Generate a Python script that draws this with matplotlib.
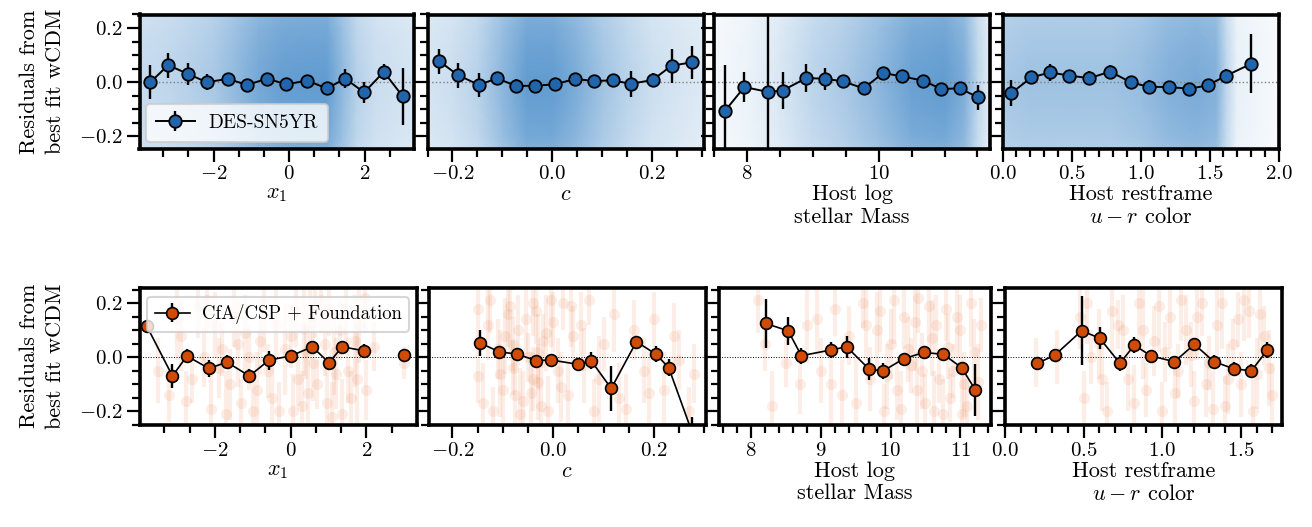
import numpy as np
import matplotlib
matplotlib.use("Agg")
import matplotlib.pyplot as plt
from matplotlib.ticker import MultipleLocator
from matplotlib.colors import LinearSegmentedColormap

plt.rcParams.update({
    "font.family": "serif",
    "font.serif": ["cmr10"],
    "mathtext.fontset": "cm",
    "axes.formatter.use_mathtext": True,
    "axes.unicode_minus": True,
})

# ---------------- DES-SN5YR binned residuals (top row) ----------------
des_x1_x = [-3.67, -3.20, -2.67, -2.18, -1.62, -1.11, -0.58, -0.07, 0.48, 1.00, 1.49, 1.99, 2.51, 3.01]
des_x1_y = [0.000, 0.063, 0.030, 0.000, 0.012, -0.010, 0.013, -0.008, 0.006, -0.023, 0.013, -0.038, 0.038, -0.052]
des_x1_e = [0.063, 0.046, 0.040, 0.030, 0.020, 0.015, 0.015, 0.012, 0.012, 0.015, 0.036, 0.040, 0.030, 0.106]

des_c_x = [-0.226, -0.189, -0.147, -0.111, -0.072, -0.034, 0.005, 0.046, 0.084, 0.121, 0.157, 0.201, 0.239, 0.279]
des_c_y = [0.077, 0.026, -0.010, 0.014, -0.014, -0.013, -0.008, 0.012, 0.004, 0.007, -0.006, 0.008, 0.061, 0.073]
des_c_e = [0.047, 0.046, 0.044, 0.020, 0.025, 0.010, 0.010, 0.010, 0.010, 0.025, 0.047, 0.026, 0.063, 0.062]

des_m_x = [7.66, 7.96, 8.32, 8.54, 8.90, 9.18, 9.46, 9.77, 10.07, 10.36, 10.67, 10.95, 11.23, 11.51]
des_m_y = [-0.108, -0.018, -0.036, -0.031, 0.015, 0.013, 0.003, -0.023, 0.034, 0.021, 0.006, -0.025, -0.023, -0.056]
des_m_e = [0.172, 0.057, 0.800, 0.068, 0.053, 0.041, 0.025, 0.020, 0.015, 0.012, 0.012, 0.012, 0.015, 0.047]

des_ur_x = [0.065, 0.210, 0.347, 0.485, 0.630, 0.781, 0.931, 1.059, 1.204, 1.355, 1.486, 1.621, 1.802]
des_ur_y = [-0.040, 0.018, 0.036, 0.024, 0.015, 0.039, -0.001, -0.017, -0.018, -0.024, -0.012, 0.024, 0.068]
des_ur_e = [0.048, 0.020, 0.030, 0.020, 0.025, 0.025, 0.020, 0.025, 0.010, 0.010, 0.010, 0.025, 0.109]

# DES background density (read as relative shading), nodes in x and y
des_bg_y = [-0.25, -0.2, -0.1, 0.0, 0.1, 0.2, 0.26]
des_bg_yprof = [0.8, 0.88, 0.95, 1.0, 0.95, 0.88, 0.8]
des_bg_x1_x = [-3.96, -3.3, -2.7, -2.0, -1.4, -0.8, -0.2, 0.4, 1.0, 1.4, 1.8, 2.3, 3.31]
des_bg_x1_d = [0.3, 0.33, 0.38, 0.45, 0.58, 0.72, 0.8, 0.82, 0.82, 0.6, 0.38, 0.28, 0.22]
des_bg_c_x = [-0.25, -0.2, -0.15, -0.1, -0.05, 0.0, 0.05, 0.1, 0.15, 0.2, 0.25, 0.303]
des_bg_c_d = [0.22, 0.27, 0.37, 0.6, 0.82, 0.82, 0.68, 0.5, 0.37, 0.27, 0.22, 0.18]
des_bg_m_x = [7.5, 8.0, 8.5, 9.0, 9.5, 10.0, 10.5, 11.0, 11.3, 11.5, 11.69]
des_bg_m_d = [0.06, 0.1, 0.2, 0.35, 0.45, 0.6, 0.78, 0.82, 0.68, 0.35, 0.15]
des_bg_ur_x = [0.0, 0.2, 0.5, 0.8, 1.0, 1.2, 1.4, 1.55, 1.62, 1.7, 2.0]
des_bg_ur_d = [0.45, 0.5, 0.5, 0.5, 0.55, 0.65, 0.7, 0.65, 0.35, 0.12, 0.04]

# ---------------- CfA/CSP + Foundation binned residuals (bottom row) ----------------
low_x1_x = [-3.80, -3.12, -2.74, -2.16, -1.68, -1.09, -0.57, 0.00, 0.57, 1.01, 1.36, 1.94, 2.50, 3.00]
low_x1_y = [0.116, -0.069, 0.005, -0.041, -0.018, -0.069, -0.010, 0.005, 0.039, -0.020, 0.039, 0.024, np.nan, 0.007]
low_x1_e = [0.0, 0.044, 0.025, 0.030, 0.025, 0.025, 0.035, 0.015, 0.020, 0.020, 0.015, 0.025, np.nan, 0.0]

low_c_x = [-0.146, -0.107, -0.071, -0.035, -0.004, 0.050, 0.075, 0.115, 0.165, 0.204, 0.229, 0.276]
low_c_y = [0.054, 0.020, 0.012, -0.012, -0.010, -0.026, -0.012, -0.115, 0.058, 0.011, -0.038, -0.280]
low_c_e = [0.048, 0.020, 0.010, 0.010, 0.010, 0.020, 0.030, 0.082, 0.010, 0.030, 0.030, 0.060]

low_m_x = [8.21, 8.53, 8.72, 9.14, 9.37, 9.69, 9.89, 10.19, 10.48, 10.76, 11.02, 11.22]
low_m_y = [0.125, 0.098, 0.006, 0.027, 0.039, -0.043, -0.051, -0.005, 0.018, 0.011, -0.038, -0.121]
low_m_e = [0.090, 0.051, 0.030, 0.030, 0.040, 0.040, 0.030, 0.008, 0.008, 0.010, 0.010, 0.097]

low_ur_x = [0.206, 0.317, 0.487, 0.602, 0.731, 0.823, 0.929, 1.078, 1.205, 1.329, 1.454, 1.567, 1.669]
low_ur_y = [-0.022, 0.008, 0.098, 0.071, -0.022, 0.045, 0.005, -0.016, 0.048, -0.016, -0.042, -0.050, 0.027]
low_ur_e = [0.0, 0.0, 0.128, 0.040, 0.030, 0.030, 0.008, 0.008, 0.008, 0.025, 0.025, 0.025, 0.030]

# Low-z individual SNe (faint background)
low_bg_x1_x = [-3.5, -3.2, -2.9, -2.6, -2.3, -2.1, -2.0, -1.8, -1.6, -1.5, -1.3, -1.1, -0.9, -0.6, -0.4, -0.3,
               0.0, 0.2, 0.3, 0.5, 0.6, 0.7, 0.9, 1.0, 1.1, 1.3, 1.5, 1.6, 1.8, 2.0, 2.2, -0.8, 0.4, 1.2, -1.9, 3.0,
               -3.0, -2.45, -1.7, -1.2, -0.7, -0.15, 0.15, 0.45, 0.8, 1.15, 1.45, 1.7, 1.95, -2.75, -1.0, 0.65,
               -0.5, 0.05, 0.35, 0.95, 1.35, 1.75, -2.2, -1.4]
low_bg_x1_y = [-0.05, -0.14, 0.08, -0.08, 0.00, -0.19, 0.12, 0.03, -0.10, 0.15, -0.17, 0.00, -0.12, -0.05, 0.12, -0.20,
               0.08, -0.08, -0.18, 0.15, -0.02, -0.10, 0.05, 0.18, -0.22, 0.10, -0.05, -0.15, 0.12, -0.12, 0.04, 0.06, 0.02, -0.06, -0.04, -0.02,
               0.14, 0.19, -0.21, 0.09, 0.20, 0.03, 0.17, -0.13, 0.21, 0.02, 0.18, 0.06, 0.22, -0.16, -0.2, 0.19,
               -0.15, -0.2, 0.11, -0.17, -0.21, -0.08, 0.21, 0.05]
low_bg_x1_e = [0.12, 0.10, 0.13, 0.09, 0.11, 0.14, 0.12, 0.10, 0.13, 0.11, 0.09, 0.12, 0.14, 0.10, 0.13, 0.11,
               0.12, 0.10, 0.13, 0.11, 0.14, 0.09, 0.12, 0.10, 0.13, 0.11, 0.12, 0.10, 0.14, 0.11, 0.09, 0.12, 0.10, 0.13, 0.11, 0.06,
               0.15, 0.12, 0.16, 0.14, 0.18, 0.17, 0.13, 0.15, 0.12, 0.16, 0.14, 0.17, 0.13, 0.11, 0.15, 0.12,
               0.16, 0.14, 0.18, 0.15, 0.13, 0.17, 0.12, 0.16]

low_bg_c_x = [-0.15, -0.15, -0.13, -0.12, -0.11, -0.10, -0.09, -0.08, -0.07, -0.06, -0.05, -0.04, -0.03, -0.02, -0.01,
              0.00, 0.01, 0.02, 0.03, 0.04, 0.06, 0.07, 0.08, 0.10, 0.13, 0.16, 0.18, 0.20, 0.22, 0.25, 0.27, -0.04, -0.08,
              -0.14, -0.125, -0.105, -0.095, -0.085, -0.065, -0.055, -0.045, -0.035, -0.025, -0.015, -0.005, 0.015,
              0.035, 0.055, 0.09, 0.12, 0.145, 0.19, 0.24, 0.28, -0.075, -0.03]
low_bg_c_y = [0.18, -0.07, 0.12, -0.20, 0.03, -0.12, 0.16, -0.04, 0.10, -0.16, 0.00, 0.20, -0.09, 0.06, -0.20,
              0.13, -0.05, 0.20, -0.14, 0.08, -0.03, 0.21, -0.20, 0.05, -0.15, 0.10, -0.05, 0.14, -0.12, -0.01, -0.20, -0.08, 0.05,
              -0.17, 0.21, -0.06, 0.08, 0.19, -0.21, 0.14, -0.13, 0.17, -0.18, 0.09, 0.21, -0.11,
              0.19, 0.12, -0.08, 0.16, -0.19, -0.13, 0.08, -0.06, -0.14, 0.02]
low_bg_c_e = [0.12, 0.10, 0.13, 0.09, 0.11, 0.14, 0.12, 0.10, 0.13, 0.11, 0.09, 0.12, 0.14, 0.10, 0.13,
              0.11, 0.12, 0.10, 0.13, 0.11, 0.14, 0.09, 0.12, 0.10, 0.13, 0.11, 0.12, 0.10, 0.14, 0.11, 0.09, 0.12, 0.10,
              0.15, 0.12, 0.16, 0.14, 0.18, 0.17, 0.13, 0.15, 0.12, 0.16, 0.14, 0.17, 0.13,
              0.15, 0.12, 0.16, 0.14, 0.13, 0.15, 0.12, 0.11, 0.16, 0.14]

low_bg_m_x = [8.1, 8.2, 8.3, 8.5, 8.7, 8.8, 9.0, 9.2, 9.3, 9.4, 9.6, 9.7, 9.8, 9.9, 10.0, 10.1, 10.2, 10.3,
              10.4, 10.5, 10.6, 10.7, 10.8, 10.9, 11.0, 11.1, 11.2, 11.3, 10.45, 10.65, 10.85, 10.25,
              9.85, 9.95, 10.05, 10.15, 10.35, 10.55, 10.75, 10.95, 11.05, 11.15, 11.25, 9.5, 9.65, 10.62, 10.82,
              11.02, 10.38, 8.95, 9.15]
low_bg_m_y = [0.21, 0.05, -0.18, -0.02, -0.10, 0.12, -0.05, 0.18, -0.14, 0.08, 0.20, -0.08, 0.10, -0.20, 0.05, -0.12, 0.15, -0.03,
              0.22, -0.17, 0.07, -0.08, 0.18, -0.05, 0.10, -0.18, 0.02, 0.12, -0.05, 0.12, -0.15, 0.03,
              0.17, -0.07, 0.21, -0.19, 0.13, 0.19, -0.21, 0.15, -0.1, 0.2, -0.09, -0.17, 0.12, -0.2, 0.04,
              -0.21, -0.12, 0.14, -0.1]
low_bg_m_e = [0.12, 0.10, 0.13, 0.09, 0.11, 0.14, 0.12, 0.10, 0.13, 0.11, 0.09, 0.12, 0.14, 0.10, 0.13, 0.11, 0.12, 0.10,
              0.13, 0.11, 0.14, 0.09, 0.12, 0.10, 0.13, 0.11, 0.12, 0.10, 0.14, 0.11, 0.09, 0.12,
              0.15, 0.12, 0.16, 0.14, 0.18, 0.17, 0.13, 0.15, 0.12, 0.16, 0.14, 0.17, 0.13, 0.15, 0.12,
              0.16, 0.14, 0.13, 0.15]

low_bg_ur_x = [0.20, 0.33, 0.48, 0.50, 0.60, 0.65, 0.72, 0.78, 0.85, 0.90, 0.95, 1.00, 1.05, 1.10, 1.15, 1.20,
               1.25, 1.30, 1.35, 1.40, 1.45, 1.50, 1.55, 1.60, 1.65, 1.70, 0.55, 0.75, 1.02, 1.28, 1.48,
               0.52, 0.62, 0.68, 0.82, 0.88, 0.98, 1.08, 1.12, 1.18, 1.22, 1.32, 1.38, 1.42, 1.52, 1.58, 1.62, 1.68]
low_bg_ur_y = [-0.02, 0.00, 0.15, -0.15, 0.05, -0.20, 0.12, -0.08, 0.20, -0.12, 0.06, -0.20, 0.15, -0.05, 0.10, -0.16,
               0.20, -0.02, 0.12, -0.18, 0.05, -0.10, 0.17, -0.06, 0.08, -0.14, 0.00, 0.10, 0.02, -0.10, 0.14,
               0.2, -0.08, 0.17, -0.17, 0.1, 0.19, -0.13, 0.21, 0.01, 0.15, -0.19, 0.2, -0.08, 0.21, -0.2, 0.16, -0.04]
low_bg_ur_e = [0.09, 0.10, 0.12, 0.10, 0.13, 0.11, 0.09, 0.12, 0.14, 0.10, 0.13, 0.11, 0.12, 0.10, 0.13, 0.11,
               0.12, 0.10, 0.14, 0.11, 0.09, 0.12, 0.10, 0.13, 0.11, 0.12, 0.10, 0.13, 0.11, 0.12, 0.10,
               0.15, 0.12, 0.16, 0.14, 0.18, 0.17, 0.13, 0.15, 0.12, 0.16, 0.14, 0.17, 0.13, 0.15, 0.12, 0.16, 0.14]

xlabels = ["$x_1$", "$c$", "Host log\nstellar Mass", "Host restframe\n$u-r$ color"]
ylabel = "Residuals from\nbest fit wCDM"

BLUE = "#2166ac"
ORANGE = "#cf4b06"
ORANGE_BG = "#e8733a"

W, H = 1312, 527
fig = plt.figure(figsize=(W / 100, H / 100), dpi=100)


def px_axes(l, r, t, b):
    return fig.add_axes([l / W, 1 - b / H, (r - l) / W, (b - t) / H])


top_pos = [(139.5, 414), (427.5, 703.5), (714, 990), (1002.5, 1278.5)]
bot_pos = [(139.5, 416.5), (428.5, 706), (718.5, 991.5), (1005, 1282)]
top_tb = (14.5, 148.5)
bot_tb = (287.5, 425)

top_xlim = [(-3.96, 3.31), (-0.25, 0.303), (7.50, 11.69), (0.0, 2.0)]
bot_xlim = [(-3.99, 3.32), (-0.2475, 0.303), (7.53, 11.45), (0.0, 1.762)]
top_major = [2, 0.2, 2, 0.5]
top_minor = [2 / 3, 0.05, 0.5, 0.1]
bot_major = [2, 0.2, 1, 0.5]
bot_minor = [2 / 3, 0.05, 0.2, 0.1]

cmap = LinearSegmentedColormap.from_list("bgblue", ["#ffffff", "#3f86c6"])


def style(ax, i, xlim, ylim, major, minor, xlabel):
    ax.set_xlim(*xlim)
    ax.set_ylim(*ylim)
    ax.xaxis.set_major_locator(MultipleLocator(major))
    ax.xaxis.set_minor_locator(MultipleLocator(minor))
    ax.yaxis.set_major_locator(MultipleLocator(0.2))
    ax.yaxis.set_minor_locator(MultipleLocator(0.05))
    for s in ax.spines.values():
        s.set_linewidth(2.6)
    ax.tick_params(which="major", direction="out", length=9.5, width=1.6, labelsize=15, pad=2.5)
    ax.tick_params(which="minor", direction="out", length=5.5, width=1.6)
    if "\n" in xlabel:
        ax.set_xlabel(xlabel, fontsize=16, labelpad=1, linespacing=1.2)
    else:
        ax.set_xlabel(xlabel, fontsize=16, labelpad=1)
    if i == 0:
        ax.set_ylabel(ylabel, fontsize=16, labelpad=10, linespacing=1.45)
    else:
        ax.tick_params(axis="y", labelleft=False)


# ---- top row ----
des_sets = [(des_x1_x, des_x1_y, des_x1_e), (des_c_x, des_c_y, des_c_e),
            (des_m_x, des_m_y, des_m_e), (des_ur_x, des_ur_y, des_ur_e)]
des_bgs = [(des_bg_x1_x, des_bg_x1_d), (des_bg_c_x, des_bg_c_d),
           (des_bg_m_x, des_bg_m_d), (des_bg_ur_x, des_bg_ur_d)]

for i in range(4):
    l, r = top_pos[i]
    ax = px_axes(l, r, *top_tb)
    bx, bd = des_bgs[i]
    Z = np.outer(des_bg_yprof, bd)
    X, Y = np.meshgrid(bx, des_bg_y)
    ax.pcolormesh(X, Y, Z, cmap=cmap, vmin=0, vmax=1, shading="gouraud", zorder=0, rasterized=True)
    ax.axhline(0, color="gray", ls=":", lw=1.0, zorder=1)
    x, y, e = des_sets[i]
    ax.errorbar(x, y, yerr=e, fmt="o-", color="k", mfc=BLUE, mec="k", ms=9, mew=1.3,
                elinewidth=1.7, lw=1.4, capsize=0, zorder=3, label="DES-SN5YR")
    style(ax, i, top_xlim[i], (-0.245, 0.25), top_major[i], top_minor[i], xlabels[i])
    if i == 0:
        leg = ax.legend(loc="lower left", fontsize=14, framealpha=0.8, edgecolor="#cccccc",
                        borderpad=0.5, handlelength=2.0, handletextpad=0.7, borderaxespad=0.35)
        leg.get_frame().set_linewidth(1.5)

# ---- bottom row ----
low_sets = [(low_x1_x, low_x1_y, low_x1_e), (low_c_x, low_c_y, low_c_e),
            (low_m_x, low_m_y, low_m_e), (low_ur_x, low_ur_y, low_ur_e)]
low_bgs = [(low_bg_x1_x, low_bg_x1_y, low_bg_x1_e), (low_bg_c_x, low_bg_c_y, low_bg_c_e),
           (low_bg_m_x, low_bg_m_y, low_bg_m_e), (low_bg_ur_x, low_bg_ur_y, low_bg_ur_e)]

for i in range(4):
    l, r = bot_pos[i]
    ax = px_axes(l, r, *bot_tb)
    bx, by, be = low_bgs[i]
    ax.errorbar(bx, by, yerr=be, fmt="o", color=ORANGE_BG, alpha=0.12, ms=8, mew=0,
                elinewidth=3.0, capsize=0, zorder=0)
    ax.axhline(0, color="k", ls=":", lw=0.7, zorder=1)
    x, y, e = low_sets[i]
    ax.errorbar(x, y, yerr=e, fmt="o-", color="k", mfc=ORANGE, mec="k", ms=8.5, mew=1.2,
                elinewidth=1.7, lw=1.2, capsize=0, zorder=3, label="CfA/CSP + Foundation")
    style(ax, i, bot_xlim[i], (-0.25, 0.258), bot_major[i], bot_minor[i], xlabels[i])
    if i == 0:
        leg = ax.legend(loc="upper center", fontsize=13.5, framealpha=0.8, edgecolor="#cccccc",
                        borderpad=0.4, handlelength=1.9, handletextpad=0.6)
        leg.get_frame().set_linewidth(1.5)

fig.savefig("out.png", dpi=100)
